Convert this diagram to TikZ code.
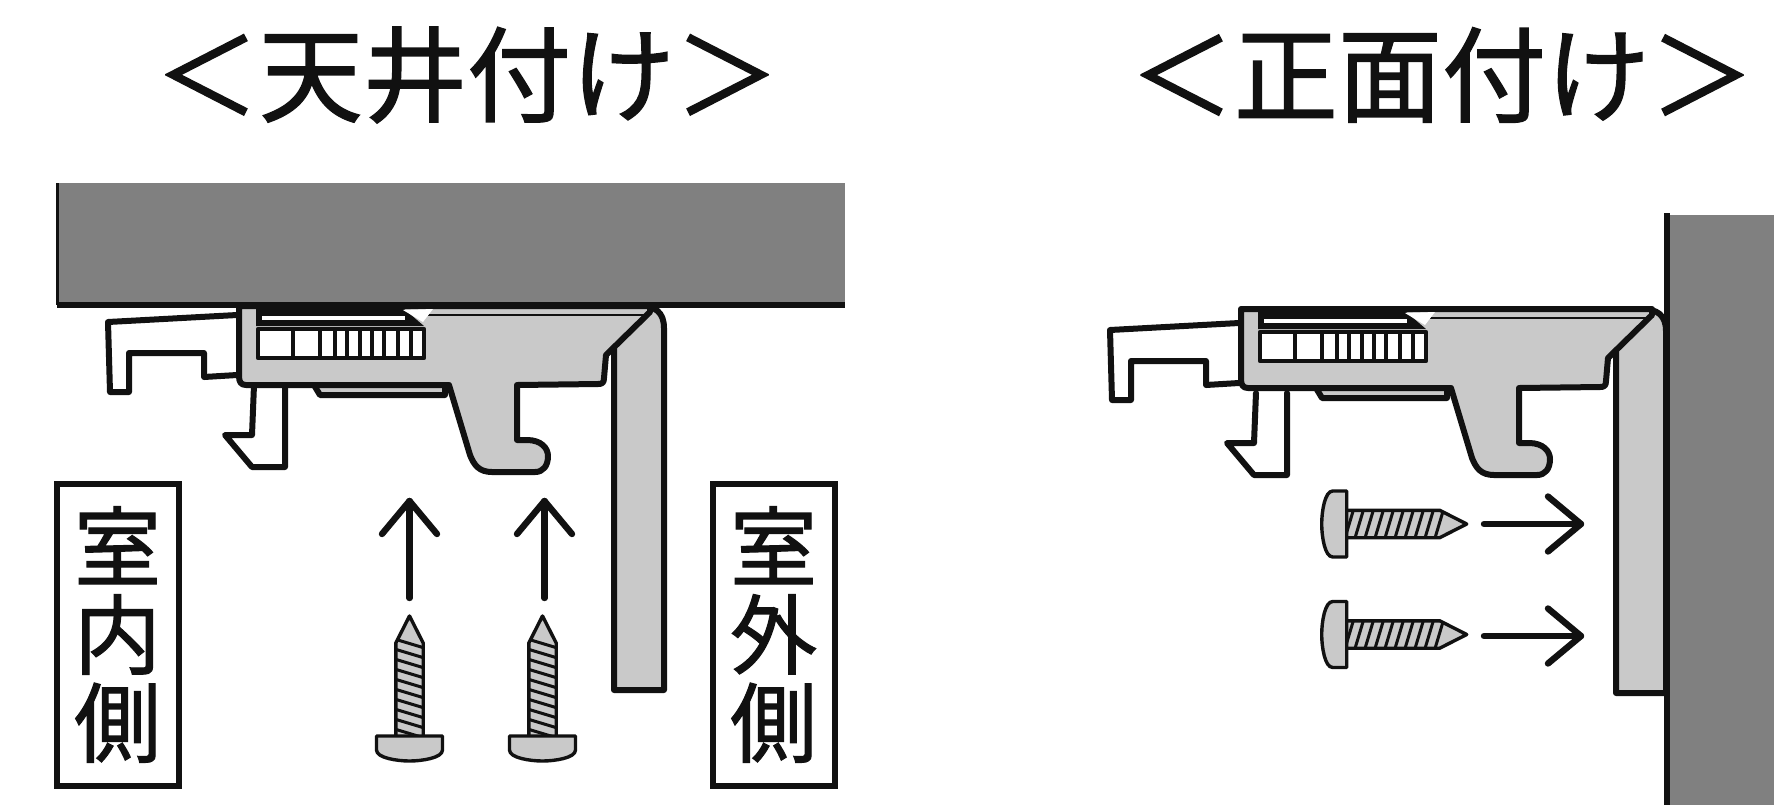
\documentclass[tikz,border=0pt]{standalone}
\usepackage{fontspec}
\newfontfamily\jpfont[FakeBold=1.3]{Noto Sans CJK JP}
\definecolor{partgrey}{HTML}{C9C9C9}
\definecolor{wallgrey}{HTML}{808080}
\definecolor{inkblack}{HTML}{111111}
\tikzset{
  outline/.style={draw=inkblack,line width=3pt,line join=round,line cap=round},
  thinline/.style={draw=inkblack,line width=1.7pt,line join=round},
  titletext/.style={inner sep=0pt,font=\jpfont\fontsize{52pt}{52pt}\selectfont,text=inkblack},
  sidelabel/.style={draw=inkblack,line width=3pt,fill=white,inner sep=0pt,minimum width=61pt,minimum height=151pt,align=center,text=inkblack,font=\jpfont\fontsize{43.5pt}{44pt}\selectfont},
  movearrow/.style={draw=inkblack,line width=3.2pt,line cap=round,line join=round},
}
\newcommand{\clipbody}{%
  \path[outline,fill=partgrey] (614,325) -- (640,306) .. controls (655,306) and (664,312) .. (664,328) -- (664,690) -- (614,690) -- cycle;
  \path[outline,fill=partgrey] (239,306) -- (650,306) -- (650,312) -- (606,355) -- (604,378) .. controls (604,383) and (602,384) .. (598,384)
     -- (517,385) -- (517,440) -- (527,440) .. controls (541,440) and (548,448) .. (548,456) .. controls (548,466) and (543,472) .. (535,472)
     -- (492,472) .. controls (479,472) and (474,465) .. (470,455) -- (449,385) -- (246,385) .. controls (241,385) and (239,382) .. (239,376) -- cycle;
  \path[thinline,line width=1.2pt] (425,315) -- (648,315);
  \path[fill=inkblack] (256,308) -- (403,308) -- (424,326) -- (256,326) -- cycle;
  \path[draw=white,line width=1.6pt] (262,318) -- (405,318);
  \path[fill=white] (403,310) -- (433,309) -- (423,322) -- cycle;
  \path[outline,line width=2.2pt,fill=white] (258,329) rectangle (424,358);
  \foreach \barx in {293,320,335,347,360,372,384,398,411}{
    \path[draw=inkblack,line width=2.1pt] (\barx,329) -- (\barx,358);
  }
}
\newcommand{\clipparts}{%
  \path[outline,fill=white] (237,315) -- (108,322) -- (110,392) -- (129,392) -- (129,353) -- (204,353) -- (204,377) -- (237,375);
  \path[outline,fill=white] (254,385) -- (252,435) -- (225,435) -- (252,467) -- (285,467) -- (285,385);
}
\newcommand{\clipplate}{%
  \path[outline,fill=partgrey] (314,385) -- (320,395) -- (445,395) -- (445,385);
}
\newcommand{\screwshape}{%
  \path[fill=partgrey] (-13.7,0) -- (-13.7,-93) -- (0,-120) -- (13.7,-93) -- (13.7,0) -- cycle;
  \begin{scope}
    \clip (-13.7,0) -- (-13.7,-93) -- (0,-120) -- (13.7,-93) -- (13.7,0) -- cycle;
    \foreach \hy in {-96,-86,...,4}{
      \path[draw=inkblack,line width=1.5pt] (-15,\hy-1) -- (15,\hy+8);
    }
  \end{scope}
  \path[thinline] (-13.7,0) -- (-13.7,-93) -- (0,-120) -- (13.7,-93) -- (13.7,0);
  \path[thinline,fill=partgrey] (-33,0) -- (33,0) -- (33,14) .. controls (33,22) and (12,25) .. (0,25) .. controls (-12,25) and (-33,22) .. (-33,14) -- cycle;
}
\newcommand{\movearrowshape}{%
  \coordinate (tail) at (0,0);
  \coordinate (tip) at (0,-97);
  \path[movearrow] (tail) -- (tip);
  \path[movearrow] (-27.5,-64) -- (tip) -- (27.5,-64);
}
\begin{document}
\begin{tikzpicture}[x=0.5pt,y=-0.5pt]
\useasboundingbox (0,0) rectangle (1774,805);
\fill[white] (0,0) rectangle (1774,805);
\node[titletext] (titleceiling) at (467,75) {＜天井付け＞};
\node[titletext] (titlefront) at (1442,75) {＜正面付け＞};
\path[fill=wallgrey] (57,183) rectangle (845,305);
\path[outline,line width=1.5pt,line cap=butt] (57.5,183) -- (57.5,305);
\clipparts
\clipplate
\clipbody
\path[draw=inkblack,line width=3pt] (57,305) -- (845,305);
\path[fill=wallgrey] (1668,215) rectangle (1774,805);
\begin{scope}[shift={(1002,8)}]
  \clipparts
\end{scope}
\begin{scope}[shift={(1002,3)}]
  \clipplate
  \clipbody
\end{scope}
\path[draw=inkblack,line width=3.2pt] (1667,213) -- (1667,805);
\node[sidelabel] (indoor) at (117.5,634.5) {室\\内\\側};
\node[sidelabel] (outdoor) at (773.5,634.5) {室\\外\\側};
\begin{scope}[shift={(409.5,736)}]\screwshape\end{scope}
\begin{scope}[shift={(542.5,736)}]\screwshape\end{scope}
\begin{scope}[shift={(409.5,598)}]\movearrowshape\end{scope}
\begin{scope}[shift={(544.5,598)}]\movearrowshape\end{scope}
\begin{scope}[shift={(1346.7,524)},rotate=-90]\screwshape\end{scope}
\begin{scope}[shift={(1346.7,634.5)},rotate=-90]\screwshape\end{scope}
\begin{scope}[shift={(1484,524)},rotate=-90]\movearrowshape\end{scope}
\begin{scope}[shift={(1484,636)},rotate=-90]\movearrowshape\end{scope}
\end{tikzpicture}
\end{document}
